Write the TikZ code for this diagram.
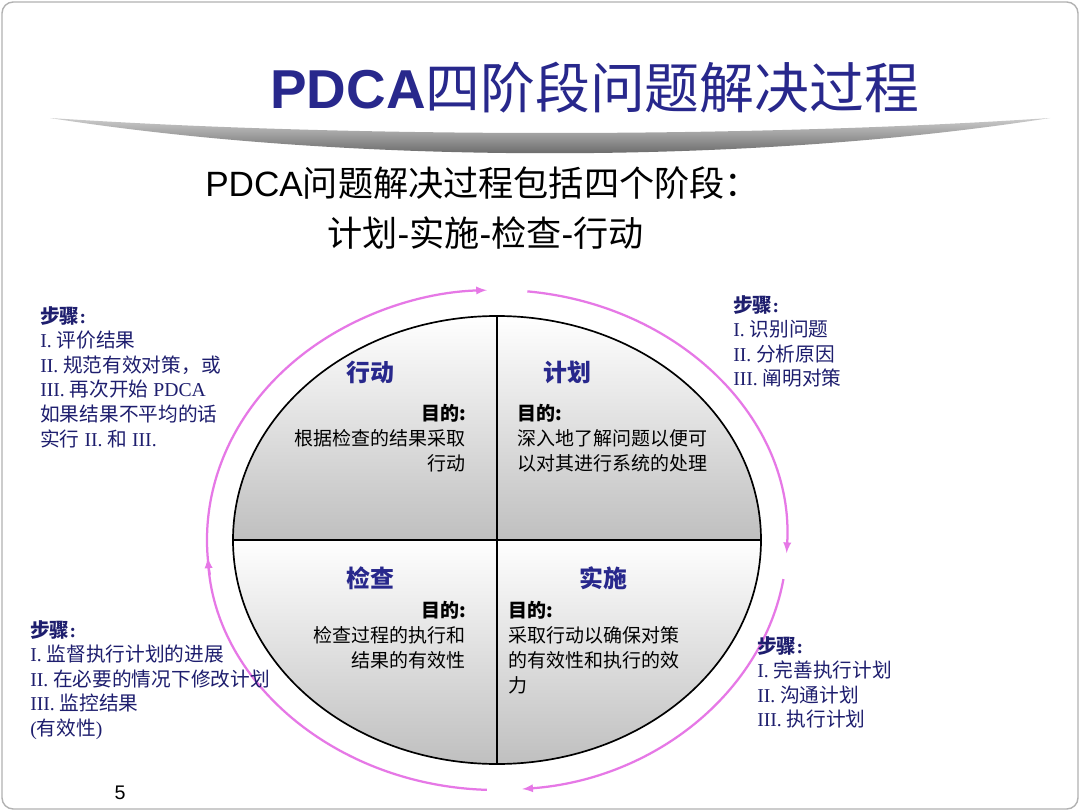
\documentclass[tikz,border=0pt]{standalone}
\usepackage{fontspec}
\setmainfont{Liberation Serif}
\setsansfont{Liberation Sans}
\newfontfamily\cjk{Noto Sans CJK SC}
\usetikzlibrary{positioning}
\definecolor{pdcablue}{RGB}{40,40,140}
\definecolor{stepblue}{RGB}{30,30,110}
\definecolor{arcpink}{RGB}{230,120,230}
\begin{document}
\begin{tikzpicture}[
    x=0.25mm, y=-0.25mm,
    steptxt/.style={anchor=north west, align=left, text=stepblue, inner sep=0pt,
        font=\fontsize{14}{17.5}\selectfont},
    head/.style={text=pdcablue, font=\cjk\bfseries\fontsize{17}{20}\selectfont},
    body/.style={inner sep=0pt, font=\cjk\fontsize{13.5}{17.7}\selectfont},
    cycle/.style={draw=arcpink, line width=1.6pt, -latex}
]
    % Frame
    \useasboundingbox (0,0) rectangle (1080,811);
    \fill[white] (0,0) rectangle (1080,811);
    \draw[gray!60, line width=1pt, rounded corners=8pt] (2,2) rectangle (1078,809);

    % Title
    \node[anchor=west, inner sep=0pt, text=pdcablue] (title) at (270,88)
        {\sffamily\bfseries\fontsize{39}{43}\selectfont PDCA{\cjk\mdseries 四阶段问题解决过程}};
    \shade[top color=gray!40, bottom color=black!70]
        (50,118) .. controls (350,165) and (750,165) .. (1050,118)
        .. controls (750,138) and (350,138) .. (50,118) -- cycle;

    % Subtitle
    \node[anchor=west, inner sep=0pt] (sub1) at (205,183)
        {\sffamily\fontsize{25}{28}\selectfont PDCA{\cjk 问题解决过程包括四个阶段：}};
    \node[anchor=west, inner sep=0pt] (sub2) at (327,233)
        {\sffamily\fontsize{25}{28}\selectfont {\cjk 计划}-{\cjk 实施}-{\cjk 检查}-{\cjk 行动}};

    % Quadrants
    \coordinate (c) at (497,540);
    \shade[top color=white, bottom color=gray!50] (233,540) arc[start angle=180, end angle=360, x radius=264, y radius=224] -- cycle;
    \shade[top color=white, bottom color=gray!50] (233,540) arc[start angle=180, end angle=0, x radius=264, y radius=224] -- cycle;
    \draw[black, line width=1.2pt] (c) ellipse[x radius=264, y radius=224];
    \draw[black, line width=1.2pt] (233,540) -- (761,540);
    \draw[black, line width=1.2pt] (497,316) -- (497,764);

    % Cycle arrows
    \draw[cycle] (c) ++(-188:290 and 250) arc[start angle=-188, end angle=-92, x radius=290, y radius=250];
    \draw[cycle] (c) ++(-84:290 and 250) arc[start angle=-84, end angle=3, x radius=290, y radius=250];
    \draw[cycle] (c) ++(9:290 and 250) arc[start angle=9, end angle=85, x radius=290, y radius=250];
    \draw[cycle] (c) ++(92:290 and 250) arc[start angle=92, end angle=176, x radius=290, y radius=250];

    % Quadrant texts
    \node[head] (act) at (370,372) {行动};
    \node[head] (plan) at (567,372) {计划};
    \node[head] (chk) at (370,578) {检查};
    \node[head] (do) at (603,578) {实施};

    \node[body, anchor=north east, align=right] (actbody) at (466,404)
        {\bfseries 目的:\\根据检查的结果采取\\行动};
    \node[body, anchor=north west, align=left] (planbody) at (517,404)
        {\bfseries 目的:\\深入地了解问题以便可\\以对其进行系统的处理};
    \node[body, anchor=north east, align=right] (chkbody) at (466,601)
        {\bfseries 目的:\\检查过程的执行和\\结果的有效性};
    \node[body, anchor=north west, align=left] (dobody) at (508,601)
        {\bfseries 目的:\\采取行动以确保对策\\的有效性和执行的效\\力};

    % Steps
    \node[steptxt] (actsteps) at (40,306)
        {{\cjk\bfseries 步骤}\textbf{:}\\I. {\cjk 评价结果}\\II. {\cjk 规范有效对策，或}\\III. {\cjk 再次开始} PDCA\\{\cjk 如果结果不平均的话}\\{\cjk 实行} II. {\cjk 和} III.};
    \node[steptxt] (plansteps) at (733,295)
        {{\cjk\bfseries 步骤}\textbf{:}\\I. {\cjk 识别问题}\\II. {\cjk 分析原因}\\III. {\cjk 阐明对策}};
    \node[steptxt] (chksteps) at (30,620)
        {{\cjk\bfseries 步骤}\textbf{:}\\I. {\cjk 监督执行计划的进展}\\II. {\cjk 在必要的情况下修改计划}\\III. {\cjk 监控结果}\\({\cjk 有效性})};
    \node[steptxt] (dosteps) at (757,636)
        {{\cjk\bfseries 步骤}\textbf{:}\\I. {\cjk 完善执行计划}\\II. {\cjk 沟通计划}\\III. {\cjk 执行计划}};

    % Page number
    \node[font=\sffamily\fontsize{14}{16}\selectfont] (page) at (120,793) {5};
\end{tikzpicture}
\end{document}
